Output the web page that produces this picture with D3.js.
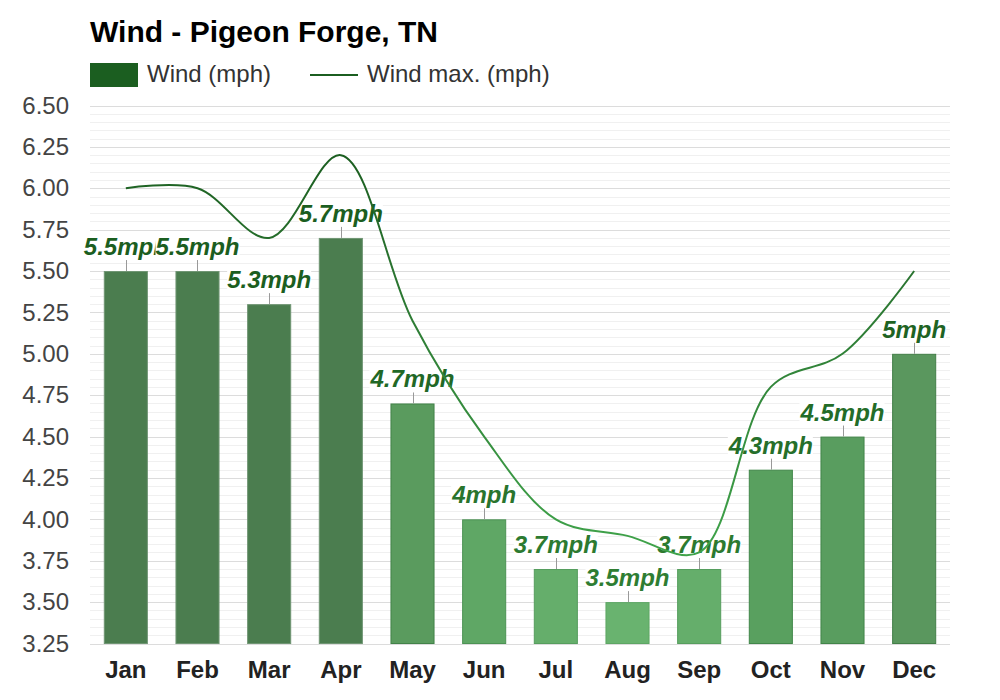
<!DOCTYPE html>
<html>
<head>
<meta charset="utf-8">
<script src="https://cdn.jsdelivr.net/npm/d3@7"></script>
<style>
  html, body { margin: 0; background: #fff; }
  text { font-family: "Liberation Sans", Arial, sans-serif; }
</style>
</head>
<body>
<svg id="chart" width="1000" height="700" style="display:block"></svg>
<script>
var months = ['Jan', 'Feb', 'Mar', 'Apr', 'May', 'Jun', 'Jul', 'Aug', 'Sep', 'Oct', 'Nov', 'Dec'];
var wind = [5.5, 5.5, 5.3, 5.7, 4.7, 4, 3.7, 3.5, 3.7, 4.3, 4.5, 5];
var windMax = [6, 6, 5.7, 6.2, 5.2, 4.5, 4, 3.9, 3.8, 4.8, 5, 5.5];
var yTicks = [3.25, 3.5, 3.75, 4, 4.25, 4.5, 4.75, 5, 5.25, 5.5, 5.75, 6, 6.25, 6.5];
var minorTicks = d3.range(66).map(function(i) { return (325 + i * 5) / 100; });

var svg = d3.select('#chart');
var plotLeft = 90, plotRight = 950, plotTop = 105.5, plotBottom = 643.5;

var x = d3.scaleBand().domain(months).range([plotLeft, plotRight]).paddingInner(0.385).paddingOuter(0.1925);
var y = d3.scaleLinear().domain([3.25, 6.5]).range([plotBottom, plotTop]);

// bars and labels go darker as the wind goes up
var barColor = d3.scaleLinear().domain([3.5, 4.3, 5, 5.3]).range(['#69b36f', '#59a05f', '#5a975e', '#4b7d4f']).clamp(true);
var barEdge = d3.scaleLinear().domain([3.5, 4.3, 5, 5.3]).range(['#5da664', '#41874a', '#437f48', '#6f9573']).clamp(true);
var labelColor = d3.scaleLinear().domain([3.5, 5.3]).range(['#2e7d32', '#1b5e20']).clamp(true);

svg.append('text').text('Wind - Pigeon Forge, TN')
  .attr('x', 90).attr('y', 42)
  .attr('font-size', 30).attr('font-weight', 'bold').attr('fill', '#000');

// legend
svg.append('rect').attr('x', 90).attr('y', 63).attr('width', 48).attr('height', 24).attr('fill', '#1b5e20');
svg.append('text').text('Wind (mph)').attr('x', 147).attr('y', 82).attr('font-size', 24).attr('fill', '#333');
svg.append('line').attr('x1', 310).attr('x2', 358).attr('y1', 75).attr('y2', 75)
  .attr('stroke', '#1b5e20').attr('stroke-width', 2);
svg.append('text').text('Wind max. (mph)').attr('x', 367).attr('y', 82).attr('font-size', 24).attr('fill', '#333');

// grid
svg.append('g').selectAll('line').data(minorTicks).enter().append('line')
  .attr('x1', plotLeft).attr('x2', plotRight)
  .attr('y1', function(d) { return Math.round(y(d)) + 0.5; })
  .attr('y2', function(d) { return Math.round(y(d)) + 0.5; })
  .attr('stroke', '#f0f0f0');
svg.append('g').selectAll('line').data(yTicks).enter().append('line')
  .attr('x1', plotLeft).attr('x2', plotRight)
  .attr('y1', function(d) { return Math.round(y(d)) + 0.5; })
  .attr('y2', function(d) { return Math.round(y(d)) + 0.5; })
  .attr('stroke', '#dcdcdc');

// axes
var yAxis = d3.axisLeft(y).tickValues(yTicks).tickFormat(d3.format('.2f')).tickSize(0).tickPadding(0);
var yG = svg.append('g').attr('transform', 'translate(69,0)').call(yAxis);
yG.select('.domain').remove();
yG.selectAll('text').attr('font-size', 24).attr('fill', '#444').attr('font-family', '"Liberation Sans", Arial, sans-serif');

var xAxis = d3.axisBottom(x).tickSize(0).tickPadding(0);
var xG = svg.append('g').attr('transform', 'translate(0,' + 661 + ')').call(xAxis);
xG.select('.domain').remove();
xG.selectAll('text').attr('font-size', 24).attr('font-weight', 'bold').attr('fill', '#222').attr('font-family', '"Liberation Sans", Arial, sans-serif');

// bars
var bars = svg.append('g').selectAll('g').data(wind).enter().append('g');
bars.append('rect')
  .attr('x', function(d, i) { return x(months[i]) + 0.5; })
  .attr('y', function(d) { return y(d) + 0.5; })
  .attr('width', x.bandwidth() - 1)
  .attr('height', function(d) { return plotBottom - y(d) - 0.5; })
  .attr('fill', function(d) { return barColor(d); })
  .attr('stroke', function(d) { return barEdge(d); });
bars.append('line')
  .attr('x1', function(d, i) { return Math.round(x(months[i]) + x.bandwidth() / 2) + 0.5; })
  .attr('x2', function(d, i) { return Math.round(x(months[i]) + x.bandwidth() / 2) + 0.5; })
  .attr('y1', function(d) { return y(d); })
  .attr('y2', function(d) { return y(d) - 11; })
  .attr('stroke', '#999');

// each label has a white backing, so a later label hides the end of the one before
var labels = svg.append('g').selectAll('g').data(wind).enter().append('g');
labels.append('text')
  .text(function(d) { return d + 'mph'; })
  .attr('x', function(d, i) { return x(months[i]) + x.bandwidth() / 2; })
  .attr('y', function(d) { return y(d) - 16; })
  .attr('text-anchor', 'middle')
  .attr('font-size', 24).attr('font-weight', 'bold').attr('font-style', 'italic')
  .attr('fill', function(d) { return labelColor(d); });
labels.each(function() {
  var g = d3.select(this);
  var box = g.select('text').node().getBBox();
  g.insert('rect', 'text')
    .attr('x', box.x).attr('y', box.y + 2)
    .attr('width', box.width).attr('height', box.height - 3)
    .attr('fill', '#fff');
});

// max line, colour follows height
var grad = svg.append('defs').append('linearGradient').attr('id', 'lineGrad')
  .attr('gradientUnits', 'userSpaceOnUse')
  .attr('x1', 0).attr('x2', 0).attr('y1', y(6.2)).attr('y2', y(3.8));
grad.append('stop').attr('offset', '0%').attr('stop-color', '#1b5e20');
grad.append('stop').attr('offset', '30%').attr('stop-color', '#2a7430');
grad.append('stop').attr('offset', '100%').attr('stop-color', '#3fa34a');

var line = d3.line()
  .x(function(d, i) { return x(months[i]) + x.bandwidth() / 2; })
  .y(function(d) { return y(d); })
  .curve(d3.curveCatmullRom.alpha(0.5));
svg.append('path').datum(windMax)
  .attr('d', line)
  .attr('fill', 'none')
  .attr('stroke', 'url(#lineGrad)')
  .attr('stroke-width', 2);
</script>
</body>
</html>
